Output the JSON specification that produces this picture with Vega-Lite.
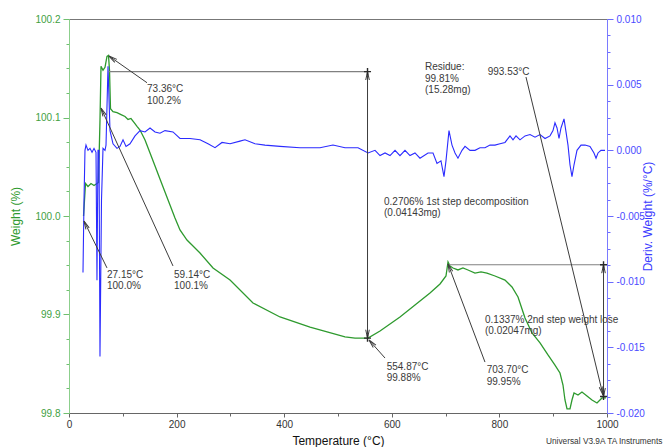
{
  "$schema": "https://vega.github.io/schema/vega-lite/v6.json",
  "width": 538,
  "height": 394,
  "autosize": {"type": "none"},
  "padding": {"left": 69, "top": 19, "right": 59, "bottom": 34},
  "background": "white",
  "config": {
    "view": {"stroke": "#777777", "strokeWidth": 1},
    "font": "Liberation Sans",
    "axis": {"labelFont": "Liberation Sans", "titleFont": "Liberation Sans", "titleFontWeight": "normal", "grid": false, "labelOverlap": false, "labelFlush": false}
  },
  "datasets": {
    "green": [
      {"t": 27.0, "w": 100.0}, {"t": 28.8, "w": 100.016}, {"t": 30.7, "w": 100.033}, {"t": 35.3, "w": 100.030},
      {"t": 40.9, "w": 100.033}, {"t": 46.5, "w": 100.031}, {"t": 52.0, "w": 100.033}, {"t": 54.8, "w": 100.034},
      {"t": 57.6, "w": 100.097}, {"t": 59.5, "w": 100.152}, {"t": 63.2, "w": 100.148}, {"t": 66.9, "w": 100.151},
      {"t": 70.6, "w": 100.162}, {"t": 73.4, "w": 100.163}, {"t": 75.3, "w": 100.148}, {"t": 77.1, "w": 100.109},
      {"t": 81.8, "w": 100.106}, {"t": 89.2, "w": 100.105}, {"t": 96.7, "w": 100.103}, {"t": 104.1, "w": 100.101},
      {"t": 109.7, "w": 100.098}, {"t": 115.2, "w": 100.099}, {"t": 120.8, "w": 100.095}, {"t": 126.4, "w": 100.091},
      {"t": 132.0, "w": 100.0873}, {"t": 141.3, "w": 100.0772}, {"t": 150.6, "w": 100.064}, {"t": 159.9, "w": 100.0508},
      {"t": 169.1, "w": 100.0376}, {"t": 178.4, "w": 100.0244}, {"t": 187.7, "w": 100.0112}, {"t": 197.0, "w": 99.998},
      {"t": 206.3, "w": 99.9858}, {"t": 219.3, "w": 99.9756}, {"t": 243.5, "w": 99.9624}, {"t": 267.7, "w": 99.9472},
      {"t": 299.3, "w": 99.935}, {"t": 342.0, "w": 99.9117}, {"t": 392.2, "w": 99.8975}, {"t": 448.0, "w": 99.8873},
      {"t": 513.0, "w": 99.8772}, {"t": 531.6, "w": 99.8761}, {"t": 555.8, "w": 99.8761}, {"t": 578.1, "w": 99.8833},
      {"t": 615.2, "w": 99.8975}, {"t": 643.1, "w": 99.9097}, {"t": 671.0, "w": 99.9218}, {"t": 689.6, "w": 99.931},
      {"t": 700.7, "w": 99.9391}, {"t": 704.5, "w": 99.9533}, {"t": 708.2, "w": 99.9492}, {"t": 713.8, "w": 99.9472},
      {"t": 723.0, "w": 99.9452}, {"t": 732.3, "w": 99.9472}, {"t": 741.6, "w": 99.9452}, {"t": 754.6, "w": 99.9421},
      {"t": 765.8, "w": 99.9432}, {"t": 776.9, "w": 99.9421}, {"t": 791.8, "w": 99.9391}, {"t": 810.4, "w": 99.935},
      {"t": 823.4, "w": 99.9279}, {"t": 834.6, "w": 99.9178}, {"t": 847.6, "w": 99.8965}, {"t": 860.6, "w": 99.8812},
      {"t": 875.5, "w": 99.8711}, {"t": 890.3, "w": 99.8589}, {"t": 903.3, "w": 99.8487}, {"t": 912.6, "w": 99.8406},
      {"t": 918.2, "w": 99.8284}, {"t": 921.9, "w": 99.8132}, {"t": 925.7, "w": 99.8041}, {"t": 931.2, "w": 99.8041},
      {"t": 934.9, "w": 99.8132}, {"t": 938.7, "w": 99.8203}, {"t": 946.1, "w": 99.8183}, {"t": 953.5, "w": 99.8213},
      {"t": 962.8, "w": 99.8173}, {"t": 972.1, "w": 99.8132}, {"t": 981.4, "w": 99.8102}, {"t": 990.7, "w": 99.8153},
      {"t": 998.1, "w": 99.8153}
    ],
    "blue": [
      {"t": 26.0, "d": -0.0093}, {"t": 27.9, "d": -0.0038}, {"t": 29.7, "d": 0.0}, {"t": 31.6, "d": 0.0004},
      {"t": 35.3, "d": 0.0}, {"t": 39.0, "d": 0.00015}, {"t": 42.8, "d": -0.00015}, {"t": 46.5, "d": 0.00015},
      {"t": 50.2, "d": -0.00015}, {"t": 52.0, "d": -0.0099}, {"t": 53.9, "d": 0.0}, {"t": 55.8, "d": 0.0},
      {"t": 57.6, "d": -0.0157}, {"t": 60.4, "d": -0.0038}, {"t": 63.2, "d": 0.00015}, {"t": 66.9, "d": 0.0},
      {"t": 68.8, "d": 0.0004}, {"t": 72.5, "d": 0.0064}, {"t": 76.2, "d": 0.0015}, {"t": 81.8, "d": 0.0005},
      {"t": 89.2, "d": 0.00015}, {"t": 94.8, "d": 0.0003}, {"t": 100.4, "d": 0.0008}, {"t": 106.0, "d": 0.0003},
      {"t": 113.4, "d": 0.0005}, {"t": 122.7, "d": 0.0011}, {"t": 132.0, "d": 0.0015}, {"t": 141.3, "d": 0.0014},
      {"t": 150.6, "d": 0.0017}, {"t": 159.9, "d": 0.0014}, {"t": 169.1, "d": 0.0013}, {"t": 178.4, "d": 0.0015},
      {"t": 193.3, "d": 0.0014}, {"t": 206.3, "d": 0.0009}, {"t": 224.9, "d": 0.0009}, {"t": 243.5, "d": 0.0008},
      {"t": 258.4, "d": 0.0005}, {"t": 271.4, "d": 0.0002}, {"t": 284.4, "d": 0.0006}, {"t": 299.3, "d": 0.0005},
      {"t": 317.8, "d": 0.0007}, {"t": 327.1, "d": 0.0008}, {"t": 345.7, "d": 0.0005}, {"t": 364.3, "d": 0.0004},
      {"t": 392.2, "d": 0.0003}, {"t": 429.4, "d": 0.0002}, {"t": 466.5, "d": 0.0002}, {"t": 490.7, "d": 0.0004},
      {"t": 513.0, "d": 0.0002}, {"t": 537.2, "d": 0.0002}, {"t": 555.8, "d": -0.0002}, {"t": 568.8, "d": 0.0},
      {"t": 578.1, "d": -0.0004}, {"t": 587.4, "d": -0.0002}, {"t": 596.7, "d": -0.0004}, {"t": 606.0, "d": 0.0},
      {"t": 615.2, "d": -0.0004}, {"t": 624.5, "d": 0.0}, {"t": 633.8, "d": -0.0004}, {"t": 643.1, "d": -0.0002},
      {"t": 652.4, "d": -0.0006}, {"t": 667.3, "d": -0.0002}, {"t": 676.6, "d": -0.0002}, {"t": 684.0, "d": -0.001},
      {"t": 691.4, "d": -0.0008}, {"t": 697.0, "d": -0.002}, {"t": 700.7, "d": -0.0008}, {"t": 706.3, "d": 0.0015},
      {"t": 711.9, "d": 0.0004}, {"t": 717.5, "d": -0.0002}, {"t": 723.0, "d": -0.0006}, {"t": 730.5, "d": 0.0},
      {"t": 736.1, "d": 0.0003}, {"t": 745.4, "d": 0.0}, {"t": 754.6, "d": 0.0}, {"t": 763.9, "d": 0.0002},
      {"t": 773.2, "d": 0.0002}, {"t": 782.5, "d": 0.0004}, {"t": 791.8, "d": 0.0004}, {"t": 801.1, "d": 0.0005},
      {"t": 810.4, "d": 0.0006}, {"t": 819.7, "d": 0.0011}, {"t": 825.3, "d": 0.0008}, {"t": 830.9, "d": 0.0011},
      {"t": 838.3, "d": 0.0008}, {"t": 847.6, "d": 0.0011}, {"t": 856.9, "d": 0.0012}, {"t": 866.2, "d": 0.001},
      {"t": 875.5, "d": 0.0012}, {"t": 884.8, "d": 0.0009}, {"t": 894.1, "d": 0.0011}, {"t": 899.6, "d": 0.0015},
      {"t": 903.3, "d": 0.0021}, {"t": 907.1, "d": 0.0017}, {"t": 910.8, "d": 0.0009}, {"t": 914.5, "d": 0.0017},
      {"t": 920.1, "d": 0.0024}, {"t": 923.8, "d": 0.0014}, {"t": 927.5, "d": 0.0004}, {"t": 931.2, "d": -0.0011},
      {"t": 934.9, "d": -0.002}, {"t": 938.7, "d": -0.0011}, {"t": 944.2, "d": 0.0}, {"t": 951.7, "d": 0.0004},
      {"t": 959.1, "d": 0.0004}, {"t": 968.4, "d": 0.0003}, {"t": 975.8, "d": -0.0002}, {"t": 979.6, "d": -0.0006},
      {"t": 983.3, "d": -0.0002}, {"t": 988.8, "d": 0.0}, {"t": 996.3, "d": 0.0}
    ],
    "segments": [
      {"kind": "bracket", "t": 73.4, "w": 100.1466, "t2": 554.87, "w2": 100.1466},
      {"kind": "bracket", "t": 703.7, "w": 99.9505, "t2": 993.53, "w2": 99.9505},
      {"kind": "leader", "t": 554.87, "w": 100.1466, "t2": 554.87, "w2": 99.876},
      {"kind": "leader", "t": 993.53, "w": 99.9505, "t2": 993.53, "w2": 99.8168},
      {"kind": "leader", "t": 145.0, "w": 100.1353, "t2": 74.3, "w2": 100.1624},
      {"kind": "leader", "t": 70.6, "w": 99.9473, "t2": 27.9, "w2": 99.9949},
      {"kind": "leader", "t": 193.3, "w": 99.9493, "t2": 59.5, "w2": 100.1096},
      {"kind": "leader", "t": 587.4, "w": 99.8558, "t2": 557.6, "w2": 99.8741},
      {"kind": "leader", "t": 773.2, "w": 99.8517, "t2": 704.5, "w2": 99.9513},
      {"kind": "leader", "t": 849.4, "w": 100.1411, "t2": 992.6, "w2": 99.8183}
    ],
    "heads": [
      {"dir": "a305", "t": 74.3, "w": 100.1624},
      {"dir": "a335", "t": 27.9, "w": 99.9949},
      {"dir": "a335", "t": 59.5, "w": 100.1096},
      {"dir": "a318", "t": 557.6, "w": 99.8741},
      {"dir": "a339", "t": 704.5, "w": 99.9513},
      {"dir": "a166", "t": 992.6, "w": 99.8183},
      {"dir": "up", "t": 554.87, "w": 100.1466},
      {"dir": "up", "t": 993.53, "w": 99.9505},
      {"dir": "down", "t": 554.87, "w": 99.876},
      {"dir": "down", "t": 993.53, "w": 99.8168}
    ],
    "crosses": [
      {"t": 554.87, "w": 100.1466}, {"t": 993.53, "w": 99.9505},
      {"t": 554.87, "w": 99.876}, {"t": 993.53, "w": 99.8168}
    ],
    "notes": [
      {"t": 145.0, "w": 100.1256, "label": "73.36°C\n100.2%"},
      {"t": 70.6, "w": 99.9371, "label": "27.15°C\n100.0%"},
      {"t": 195.2, "w": 99.9371, "label": "59.14°C\n100.1%"},
      {"t": 590.5, "w": 99.8437, "label": "554.87°C\n99.88%"},
      {"t": 776.4, "w": 99.8406, "label": "703.70°C\n99.95%"},
      {"t": 778.2, "w": 100.1431, "label": "993.53°C"},
      {"t": 661.7, "w": 100.1482, "label": "Residue:\n99.81%\n(15.28mg)"},
      {"t": 585.5, "w": 100.0112, "label": "0.2706% 1st step decomposition\n(0.04143mg)"},
      {"t": 773.2, "w": 99.8914, "label": "0.1337% 2nd step weight lose\n(0.02047mg)"}
    ],
    "footer": [
      {"t": 886.6, "w": 99.7685, "label": "Universal V3.9A TA Instruments"}
    ]
  },
  "layer": [
    {
      "data": {"name": "green"},
      "mark": {"type": "line", "color": "#2e9a2e", "strokeWidth": 1.3, "clip": true},
      "encoding": {
        "x": {
          "field": "t", "type": "quantitative",
          "scale": {"domain": [0, 1000], "nice": false, "zero": false},
          "axis": {
            "title": "Temperature (°C)",
            "values": [0, 50, 100, 150, 200, 250, 300, 350, 400, 450, 500, 550, 600, 650, 700, 750, 800, 850, 900, 950, 1000],
            "labelExpr": "datum.value % 200 === 0 ? format(datum.value, 'd') : ''",
            "tickSize": {"condition": {"test": "datum.value % 200 === 0", "value": 4}, "value": 3},
            "domainColor": "#666666", "tickColor": "#666666", "labelColor": "#333333",
            "labelFontSize": 10, "labelPadding": 2, "titleFontSize": 12, "titleColor": "#111111", "titlePadding": 6
          }
        },
        "y": {
          "field": "w", "type": "quantitative",
          "scale": {"domain": [99.8, 100.2], "nice": false, "zero": false},
          "axis": {
            "orient": "left",
            "title": "Weight (%)",
            "values": [99.8, 99.825, 99.85, 99.875, 99.9, 99.925, 99.95, 99.975, 100.0, 100.025, 100.05, 100.075, 100.1, 100.125, 100.15, 100.175, 100.2],
            "labelExpr": "abs(datum.value*10 - round(datum.value*10)) < 0.001 ? format(datum.value, '.1f') : ''",
            "tickSize": {"condition": {"test": "abs(datum.value*10 - round(datum.value*10)) < 0.001", "value": 6}, "value": 3},
            "domainColor": "#8ccf8c", "tickColor": "#6fbf6f", "labelColor": "#3f9f3f",
            "labelFontSize": 10, "labelPadding": 3, "titleFontSize": 12, "titleColor": "#2e9a2e", "titlePadding": 12
          }
        }
      }
    },
    {
      "data": {"name": "blue"},
      "mark": {"type": "line", "color": "#2b2bff", "strokeWidth": 1.1, "clip": true},
      "encoding": {
        "x": {"field": "t", "type": "quantitative", "scale": {"domain": [0, 1000], "nice": false, "zero": false}},
        "y": {
          "field": "d", "type": "quantitative",
          "scale": {"domain": [-0.02, 0.01], "nice": false, "zero": false},
          "axis": {
            "orient": "right",
            "title": "Deriv. Weight (%/°C)",
            "titleAngle": 270,
            "values": [-0.02, -0.01875, -0.0175, -0.01625, -0.015, -0.01375, -0.0125, -0.01125, -0.01, -0.00875, -0.0075, -0.00625, -0.005, -0.00375, -0.0025, -0.00125, 0, 0.00125, 0.0025, 0.00375, 0.005, 0.00625, 0.0075, 0.00875, 0.01],
            "labelExpr": "abs(datum.value*200 - round(datum.value*200)) < 0.001 ? replace(format(datum.value, '.3f'), '−', '-') : ''",
            "tickSize": {"condition": {"test": "abs(datum.value*200 - round(datum.value*200)) < 0.001", "value": 6}, "value": 3},
            "domainColor": "#7a7aff", "tickColor": "#6a6aff", "labelColor": "#4a4aff",
            "labelFontSize": 10, "labelPadding": 3, "titleFontSize": 12, "titleColor": "#3c3cff", "titlePadding": 10
          }
        }
      }
    },
    {
      "encoding": {
        "x": {"field": "t", "type": "quantitative", "scale": {"domain": [0, 1000], "nice": false, "zero": false}},
        "y": {"field": "w", "type": "quantitative", "scale": {"domain": [99.8, 100.2], "nice": false, "zero": false}, "axis": null}
      },
      "layer": [
        {
          "data": {"name": "segments"},
          "transform": [{"filter": "datum.kind === 'bracket'"}],
          "mark": {"type": "rule", "color": "#808080", "strokeWidth": 1.2},
          "encoding": {"x2": {"field": "t2"}, "y2": {"field": "w2"}}
        },
        {
          "data": {"name": "segments"},
          "transform": [{"filter": "datum.kind === 'leader'"}],
          "mark": {"type": "rule", "color": "#3c3c3c", "strokeWidth": 1},
          "encoding": {"x2": {"field": "t2"}, "y2": {"field": "w2"}}
        },
        {
          "data": {"name": "heads"},
          "transform": [{"filter": "datum.dir === 'a305'"}],
          "mark": {"type": "point", "shape": "M-0.6,2.8L0,0L0.6,2.8", "size": 36, "angle": 305, "filled": false, "stroke": "#3c3c3c", "strokeWidth": 1, "opacity": 1}
        },
        {
          "data": {"name": "heads"},
          "transform": [{"filter": "datum.dir === 'a335'"}],
          "mark": {"type": "point", "shape": "M-0.6,2.8L0,0L0.6,2.8", "size": 36, "angle": 335, "filled": false, "stroke": "#3c3c3c", "strokeWidth": 1, "opacity": 1}
        },
        {
          "data": {"name": "heads"},
          "transform": [{"filter": "datum.dir === 'a318'"}],
          "mark": {"type": "point", "shape": "M-0.6,2.8L0,0L0.6,2.8", "size": 36, "angle": 318, "filled": false, "stroke": "#3c3c3c", "strokeWidth": 1, "opacity": 1}
        },
        {
          "data": {"name": "heads"},
          "transform": [{"filter": "datum.dir === 'a339'"}],
          "mark": {"type": "point", "shape": "M-0.6,2.8L0,0L0.6,2.8", "size": 36, "angle": 339, "filled": false, "stroke": "#3c3c3c", "strokeWidth": 1, "opacity": 1}
        },
        {
          "data": {"name": "heads"},
          "transform": [{"filter": "datum.dir === 'a166'"}],
          "mark": {"type": "point", "shape": "M-0.6,2.8L0,0L0.6,2.8", "size": 36, "angle": 166, "filled": false, "stroke": "#3c3c3c", "strokeWidth": 1, "opacity": 1}
        },
        {
          "data": {"name": "heads"},
          "transform": [{"filter": "datum.dir === 'up'"}],
          "mark": {"type": "point", "shape": "M-0.6,2.8L0,0L0.6,2.8", "size": 36, "angle": 0, "filled": false, "stroke": "#3c3c3c", "strokeWidth": 1, "opacity": 1}
        },
        {
          "data": {"name": "heads"},
          "transform": [{"filter": "datum.dir === 'down'"}],
          "mark": {"type": "point", "shape": "M-0.6,2.8L0,0L0.6,2.8", "size": 36, "angle": 180, "filled": false, "stroke": "#3c3c3c", "strokeWidth": 1, "opacity": 1}
        },
        {
          "data": {"name": "crosses"},
          "mark": {"type": "point", "shape": "M-1,0L1,0M0,-1L0,1", "size": 49, "filled": false, "stroke": "#2a2a2a", "strokeWidth": 1.4, "opacity": 1}
        },
        {
          "data": {"name": "notes"},
          "mark": {"type": "text", "align": "left", "baseline": "alphabetic", "fontSize": 10, "lineBreak": "\n", "lineHeight": 11.5, "color": "#3a3a3a", "font": "Liberation Sans"},
          "encoding": {"text": {"field": "label"}}
        },
        {
          "data": {"name": "footer"},
          "mark": {"type": "text", "align": "left", "baseline": "alphabetic", "fontSize": 8.3, "color": "#333333", "font": "Liberation Sans"},
          "encoding": {"text": {"field": "label"}}
        }
      ]
    }
  ],
  "resolve": {"scale": {"y": "independent"}}
}
